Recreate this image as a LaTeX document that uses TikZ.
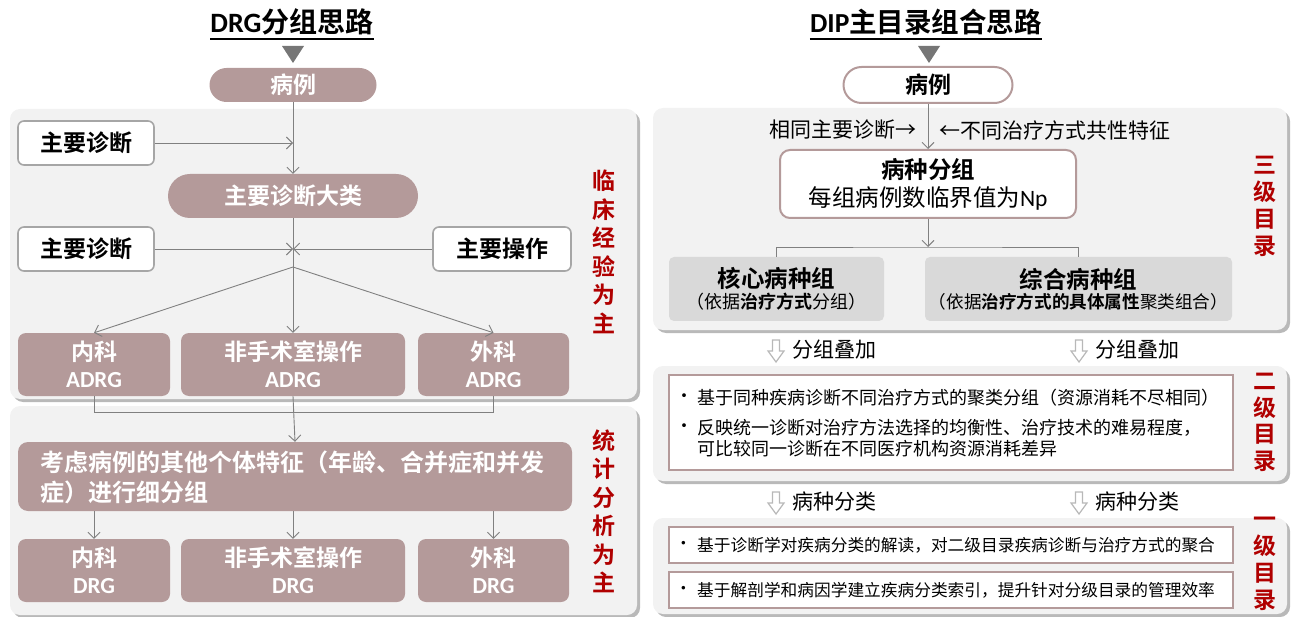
\documentclass[tikz,border=0pt]{standalone}
\usepackage{fontspec}
\setmainfont{Noto Sans CJK SC}[BoldFont={Noto Sans CJK SC Bold}]
\newfontfamily\lat{Carlito}
\usetikzlibrary{arrows.meta,shadows,calc}
\definecolor{mauve}{HTML}{B49A9A}
\definecolor{panelgray}{HTML}{F2F2F2}
\definecolor{boxgray}{HTML}{D9D9D9}
\definecolor{edgegray}{HTML}{A6A6A6}
\definecolor{linegray}{HTML}{808080}
\definecolor{darkred}{HTML}{B00000}
\definecolor{triangray}{HTML}{767676}
\tikzset{
  fs/.style={font=\fontsize{#1}{#1}\selectfont},
  panel/.style={fill=panelgray, rounded corners=10pt,
    drop shadow={shadow xshift=3pt, shadow yshift=-3pt, opacity=0.55, fill=gray}},
  pill/.style={fill=mauve, text=white, font=\fontsize{23}{26}\selectfont\bfseries,
    rounded corners=#1, inner sep=0pt},
  whitebox/.style={fill=white, draw=edgegray, line width=1.6pt, rounded corners=6pt,
    inner sep=0pt, font=\fontsize{23}{26}\selectfont\bfseries},
  mbox/.style={fill=mauve, text=white, rounded corners=8pt, inner sep=0pt, align=center,
    font=\fontsize{23}{27}\selectfont\bfseries},
  outlinebox/.style={fill=white, draw=mauve, line width=2pt, inner sep=0pt, align=center},
  graybox/.style={fill=boxgray, rounded corners=5pt, inner sep=0pt, align=center},
  redtext/.style={text=darkred, align=center, inner sep=0pt, font=\fontsize{23}{#1}\selectfont\bfseries},
  conn/.style={draw=linegray, line width=0.9pt},
  arr/.style={conn, -{Straight Barb[length=6pt,width=12pt,line width=0.9pt]}},
  tri/.style={fill=triangray},
  dnarrow/.style={fill=white, draw=edgegray!80, line width=1.2pt},
  bullettext/.style={anchor=west, inner sep=0pt, fs=#1},
  bullettext/.default=18,
}
\begin{document}
\begin{tikzpicture}[x=1pt,y=-1pt]
\useasboundingbox (0,0) rectangle (1292,617);

% ================= LEFT: DRG =================
\node[anchor=base, inner sep=0pt, font=\fontsize{28}{28}\selectfont\bfseries] (t1) at (292,32.5) {{\lat DRG}分组思路};
\draw[line width=1.5pt] (t1.base west |- 0,39) -- (t1.base east |- 0,39);
\path[tri] (282,46) -- (304,46) -- (293,63) -- cycle;
\node[pill=17pt, minimum width=167pt, minimum height=34pt] (bl1) at (293,85) {病例};

\path[panel] (10,109) rectangle (637,399);
\path[panel] (10,406) rectangle (637,615);

\node[whitebox, minimum width=136pt, minimum height=44pt] (zd1) at (86,143) {主要诊断};
\node[pill=22pt, minimum width=250pt, minimum height=44pt] (dl) at (293,196) {主要诊断大类};
\node[whitebox, minimum width=136pt, minimum height=44pt] (zd2) at (86,249) {主要诊断};
\node[whitebox, minimum width=138pt, minimum height=44pt] (zc) at (502,249) {主要操作};

\node[mbox, minimum width=152pt, minimum height=63pt] (a1) at (94,364.5) {内科\\{\lat ADRG}};
\node[mbox, minimum width=224pt, minimum height=63pt] (a2) at (293,364.5) {非手术室操作\\{\lat ADRG}};
\node[mbox, minimum width=151pt, minimum height=63pt] (a3) at (493.5,364.5) {外科\\{\lat ADRG}};

\node[redtext=28.5] (r1) at (604,252) {临\\床\\经\\验\\为\\主};

\node[fill=mauve, rounded corners=10pt, minimum width=554pt, minimum height=69pt, inner sep=0pt] (kl) at (295,476.5) {};
\node[anchor=west, align=left, text=white, inner sep=0pt, font=\fontsize{24}{30}\selectfont\bfseries] (klt) at (40,477) {考虑病例的其他个体特征（年龄、合并症和并发\\症）进行细分组};

\node[mbox, minimum width=152pt, minimum height=63pt] (d1) at (94,570.5) {内科\\{\lat DRG}};
\node[mbox, minimum width=224pt, minimum height=63pt] (d2) at (293,570.5) {非手术室操作\\{\lat DRG}};
\node[mbox, minimum width=151pt, minimum height=63pt] (d3) at (493.5,570.5) {外科\\{\lat DRG}};

\node[redtext=28.5] (r2) at (604,511.5) {统\\计\\分\\析\\为\\主};

% connectors left
\coordinate (j1) at (293,143);
\coordinate (j2) at (293,249);
\coordinate (j3) at (293,267);
\draw[arr] (bl1.south) -- (dl.north);
\draw[arr] (zd1.east) -- (j1);
\draw[arr] (zd2.east) -- (j2);
\draw[arr] (zc.west) -- (j2);
\draw[arr] (dl.south) -- (a2.north);
\draw[arr] (j3) -- (a1.north);
\draw[arr] (j3) -- (a3.north);
\draw[conn] (a1.south) -- ++(0,16) -| (a3.south);
\draw[arr] (a2.south) -- (kl.north);
\draw[arr] (kl.south -| d1.north) -- (d1.north);
\draw[arr] (kl.south -| d2.north) -- (d2.north);
\draw[arr] (kl.south -| d3.north) -- (d3.north);

% ================= RIGHT: DIP =================
\node[anchor=base, inner sep=0pt, font=\fontsize{27.5}{28}\selectfont\bfseries] (t2) at (926,32.5) {{\lat DIP}主目录组合思路};
\draw[line width=1.5pt] (t2.base west |- 0,39) -- (t2.base east |- 0,39);
\path[tri] (918,46) -- (940,46) -- (929,63) -- cycle;
\node[outlinebox, rounded corners=18pt, minimum width=169pt, minimum height=36pt,
      font=\fontsize{23}{26}\selectfont\bfseries] (rb) at (928,85) {病例};

\path[panel] (653,108) rectangle (1287,330);
\path[panel] (653,366) rectangle (1287,481);
\path[panel] (653,518) rectangle (1287,614);

\node[anchor=east, inner sep=0pt, fs=21] (lbl1) at (917,130) {相同主要诊断→};
\node[anchor=west, inner sep=0pt, fs=21] (lbl2) at (939,130) {←不同治疗方式共性特征};

\node[outlinebox, rounded corners=10pt, minimum width=296pt, minimum height=68pt,
      font=\fontsize{23.5}{28}\selectfont] (bz) at (928,184) {\textbf{病种分组}\\每组病例数临界值为{\lat Np}};

\node[graybox, minimum width=215pt, minimum height=64pt] (hx) at (776.5,289)
  {{\fontsize{23.5}{26}\selectfont\bfseries 核心病种组}\\[2pt]{\fontsize{18}{20}\selectfont （依据\textbf{治疗方式}分组）}};
\node[graybox, minimum width=307pt, minimum height=64pt] (zh) at (1078.5,289)
  {{\fontsize{23.5}{26}\selectfont\bfseries 综合病种组}\\[2pt]{\fontsize{17.6}{20}\selectfont （依据\textbf{治疗方式的具体属性}聚类组合）}};

\coordinate (j5) at (928,247);
\draw[arr] (rb.south) -- (bz.north);
\draw[arr] (bz.south) -- (j5);
\draw[conn] (hx.north) |- (j5) -| (zh.north);

\node[redtext=27] (r3) at (1265,206) {三\\级\\目\\录};

% grouping arrows
\foreach \cx/\ty in {776/340, 1079/340, 776/492, 1079/492}{
  \path[dnarrow] (\cx-3.5,\ty) -- (\cx+3.5,\ty) -- (\cx+3.5,\ty+11) -- (\cx+8,\ty+11)
     -- (\cx,\ty+22) -- (\cx-8,\ty+11) -- (\cx-3.5,\ty+11) -- cycle;
}
\node[anchor=west, inner sep=0pt, fs=21] (g1) at (792,350) {分组叠加};
\node[anchor=west, inner sep=0pt, fs=21] (g2) at (1095,350) {分组叠加};
\node[anchor=west, inner sep=0pt, fs=21] (g3) at (792,502) {病种分类};
\node[anchor=west, inner sep=0pt, fs=21] (g4) at (1095,502) {病种分类};

% level 2
\node[outlinebox, minimum width=564pt, minimum height=95pt] (ib1) at (951,422.5) {};
\node[bullettext] (b1) at (675,398) {•};
\node[bullettext] (b1t) at (697,398) {基于同种疾病诊断不同治疗方式的聚类分组（资源消耗不尽相同）};
\node[bullettext] (b2) at (675,428) {•};
\node[bullettext] (b2t) at (697,428) {反映统一诊断对治疗方法选择的均衡性、治疗技术的难易程度，};
\node[bullettext] (b3t) at (697,449) {可比较同一诊断在不同医疗机构资源消耗差异};
\node[redtext=26.5] (r4) at (1265,422.5) {二\\级\\目\\录};

% level 1
\node[outlinebox, minimum width=564pt, minimum height=36pt] (ib2) at (951,545) {};
\node[outlinebox, minimum width=564pt, minimum height=36pt] (ib3) at (951,590) {};
\node[bullettext=16.7] (c1) at (675,545) {•};
\node[bullettext=16.7] (c1t) at (697,545) {基于诊断学对疾病分类的解读，对二级目录疾病诊断与治疗方式的聚合};
\node[bullettext=16.7] (c2) at (675,590) {•};
\node[bullettext=16.7] (c2t) at (697,590) {基于解剖学和病因学建立疾病分类索引，提升针对分级目录的管理效率};
\node[redtext=27] (r5) at (1265,564) {一\\级\\目\\录};
\end{tikzpicture}
\end{document}
